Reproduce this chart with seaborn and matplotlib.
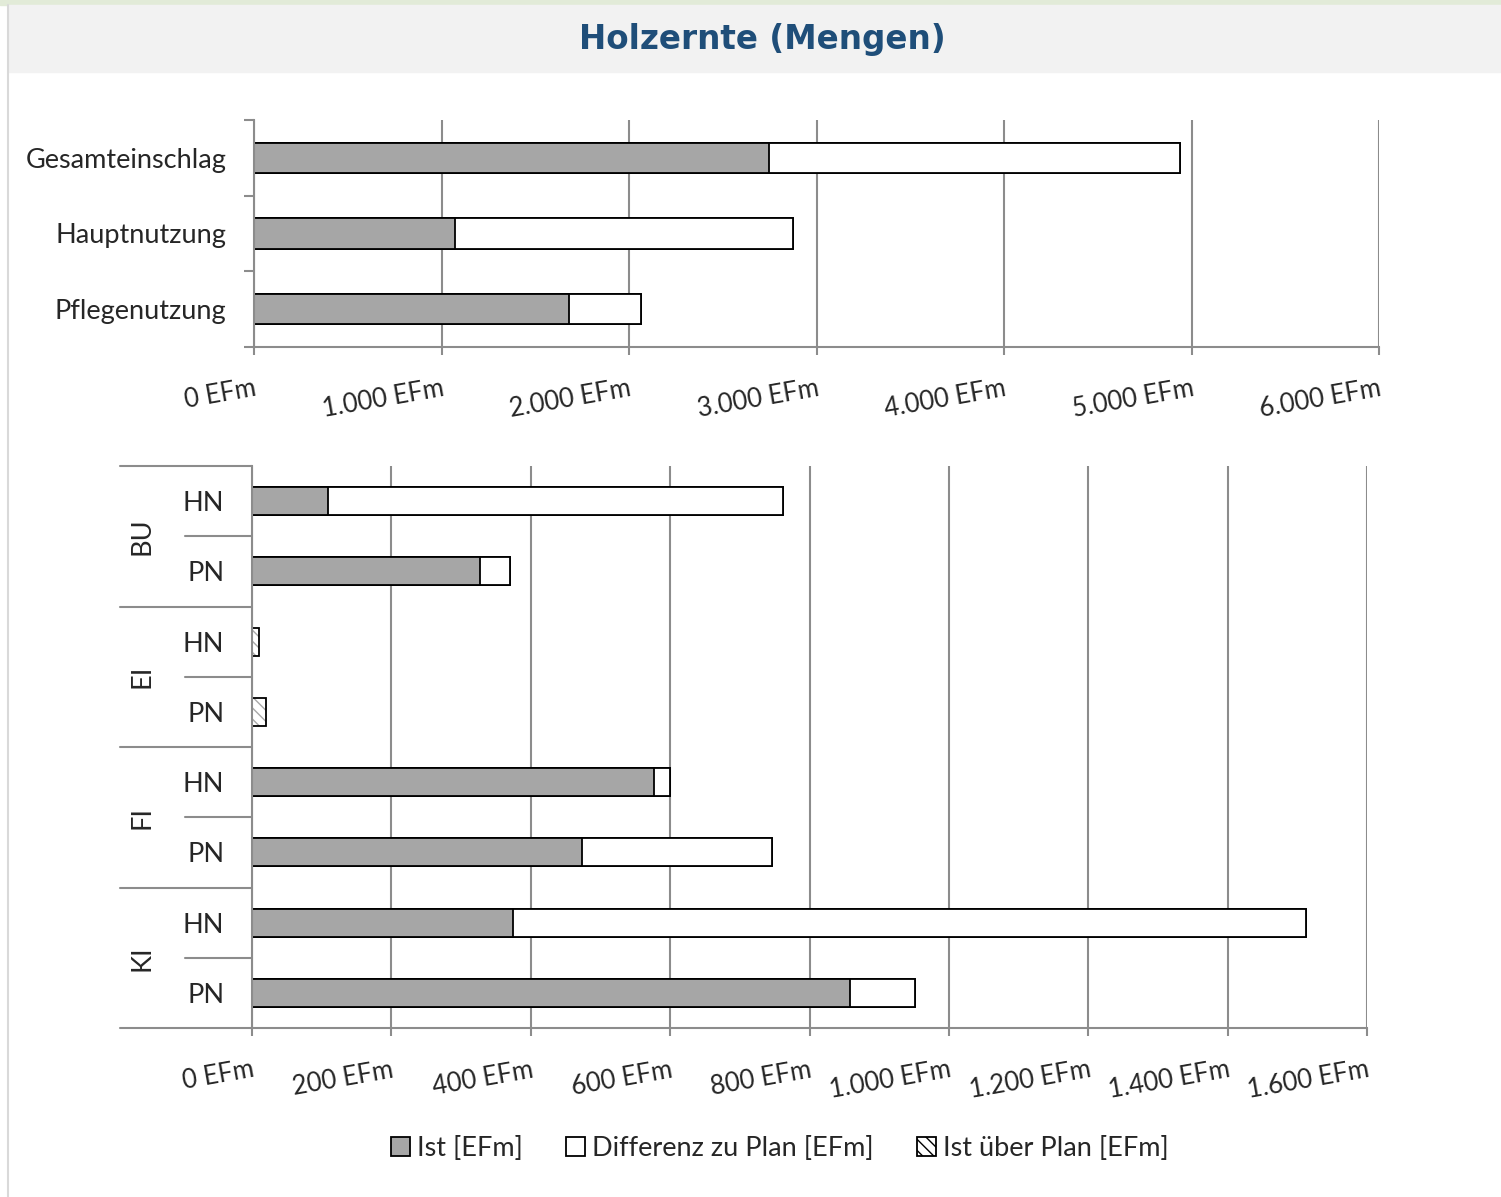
import matplotlib
matplotlib.use("Agg")
import matplotlib.pyplot as plt
import matplotlib.patches as mpatches
import matplotlib.transforms as mtransforms
from matplotlib.ticker import FuncFormatter, MultipleLocator
import numpy as np
import pandas as pd
import seaborn as sns

sns.set_style("white")
plt.rcParams['font.family'] = ['Lato', 'DejaVu Sans']
plt.rcParams['hatch.linewidth'] = 1.0

# Daten oben: Gesamt / Haupt- / Pflegenutzung
top_labels = ["Gesamteinschlag", "Hauptnutzung", "Pflegenutzung"]
top_ist = [2747, 1072, 1680]
top_diff = [2192, 1803, 384]
top_over = [0, 0, 0]

# Daten unten: Baumart x Nutzungsart
groups = ["BU", "EI", "FI", "KI"]
subs = ["HN", "PN"]
bot_ist = [109, 327, 0, 0, 577, 473, 374, 858]
bot_diff = [653, 43, 0, 0, 23, 273, 1138, 93]
bot_over = [0, 0, 10, 20, 0, 0, 0, 0]

legend_labels = ["Ist [EFm]", "Differenz zu Plan [EFm]", "Ist über Plan [EFm]"]

GRID = "#8c8c8c"
IST_COL = "#a6a6a6"
FS = 19.5
XFS = 18.5
HATCH = "\\\\\\"


def efm(x, pos):
    return "{:,} EFm".format(int(round(x))).replace(",", ".")


def draw_stacked(ax, cats, ist, diff, over):
    ist = np.array(ist)
    diff = np.array(diff)
    over = np.array(over)
    df = pd.DataFrame({"cat": cats, "ist": ist,
                       "plan": ist + diff, "total": ist + diff + over})
    # Ist über Plan (schraffiert) ganz hinten
    sns.barplot(data=df, y="cat", x="total", orient="h", color="white",
                width=0.4, edgecolor="#a8a8a8", linewidth=0, hatch=HATCH,
                saturation=1, ax=ax)
    sns.barplot(data=df, y="cat", x="total", orient="h", fill=False,
                color="black", width=0.4, linewidth=1.3, ax=ax)
    # Differenz zu Plan
    sns.barplot(data=df[df.plan > 0], y="cat", x="plan", orient="h",
                color="white", width=0.4, edgecolor="black", linewidth=1.3,
                saturation=1, ax=ax, order=cats)
    # Ist
    sns.barplot(data=df[df.ist > 0], y="cat", x="ist", orient="h",
                color=IST_COL, width=0.4, edgecolor="black", linewidth=1.3,
                saturation=1, ax=ax, order=cats)


def style_axis(ax, xmax, step, n):
    ax.set_xlim(0, xmax)
    ax.set_ylim(n - 0.5, -0.5)
    ax.xaxis.set_major_locator(MultipleLocator(step))
    ax.xaxis.set_major_formatter(FuncFormatter(efm))
    ax.grid(axis="x", color=GRID, linewidth=1.5)
    ax.grid(axis="y", visible=False)
    ax.set_axisbelow(True)
    for s in ["top", "right"]:
        ax.spines[s].set_visible(False)
    for s in ["left", "bottom"]:
        ax.spines[s].set_color(GRID)
        ax.spines[s].set_linewidth(1.5)
    ax.set_xlabel("")
    ax.set_ylabel("")
    ax.tick_params(axis="x", bottom=True, length=6, width=1.5, color=GRID,
                   labelsize=XFS, pad=15)
    for lab in ax.get_xticklabels():
        lab.set_rotation(10)
        lab.set_ha("right")
        lab.set_rotation_mode("anchor")


fig = plt.figure(figsize=(15.01, 11.97), dpi=100)

# Rahmen / Titelband
fig.patches.append(mpatches.Rectangle((0, 1 - 5 / 1197), 1, 5 / 1197,
                                      transform=fig.transFigure,
                                      color="#e2ebd8", zorder=0))
fig.patches.append(mpatches.Rectangle((8 / 1501, 1 - 72 / 1197), 1, 67 / 1197,
                                      transform=fig.transFigure,
                                      color="#f2f2f2", zorder=0))
fig.add_artist(plt.Line2D([7.5 / 1501, 7.5 / 1501], [0, 1 - 5 / 1197],
                          transform=fig.transFigure, color="#d9d9d9", lw=1.5))
fig.text(762 / 1501, 1 - 39 / 1197, "Holzernte (Mengen)", ha="center",
         va="center", fontsize=23.5, fontweight="bold", color="#1f4e79",
         family="DejaVu Sans")

# oberes Diagramm
ax1 = fig.add_axes([254 / 1501, 1 - 347 / 1197, 1125 / 1501, 227 / 1197])
draw_stacked(ax1, top_labels, top_ist, top_diff, top_over)
style_axis(ax1, 6000, 1000, 3)
ax1.set_yticks(range(3))
ax1.set_yticklabels(top_labels)
ax1.set_yticks([-0.5, 0.5, 1.5, 2.5], minor=True)
ax1.tick_params(axis="y", which="major", length=0, labelsize=FS, pad=20)
ax1.tick_params(axis="y", which="minor", left=True, length=7, width=1.5,
                color=GRID)
style_axis(ax1, 6000, 1000, 3)

# unteres Diagramm
bot_cats = [g + "-" + s for g in groups for s in subs]
ax2 = fig.add_axes([252 / 1501, 1 - 1028 / 1197, 1115 / 1501, 562 / 1197])
draw_stacked(ax2, bot_cats, bot_ist, bot_diff, bot_over)
style_axis(ax2, 1600, 200, len(bot_cats))
ax2.set_yticks(range(len(bot_cats)))
ax2.set_yticklabels([c.split("-")[1] for c in bot_cats])
ax2.tick_params(axis="y", which="major", length=0, labelsize=FS, pad=20)

trans = mtransforms.blended_transform_factory(ax2.transAxes, ax2.transData)
for i in range(len(groups) + 1):
    y = 2 * i - 0.5
    ax2.plot([-0.1184, 0], [y, y], transform=trans, color=GRID, lw=1.5,
             clip_on=False)
for i, g in enumerate(groups):
    y = 2 * i + 0.5
    ax2.plot([-0.060, 0], [y, y], transform=trans, color=GRID, lw=1.5,
             clip_on=False)
    ax2.text(-0.099, y, g, transform=trans, rotation=90, ha="center",
             va="center", fontsize=FS)

# Legende
handles = [
    mpatches.Patch(facecolor=IST_COL, edgecolor="black", linewidth=1.3),
    mpatches.Patch(facecolor="white", edgecolor="black", linewidth=1.3),
    mpatches.Patch(facecolor="white", edgecolor="black", linewidth=1.3,
                   hatch=HATCH),
]
fig.legend(handles, legend_labels, loc="center", ncol=3,
           bbox_to_anchor=(780 / 1501, 1 - 1148 / 1197), frameon=False,
           fontsize=FS, handlelength=0.7, handleheight=0.7,
           handletextpad=0.25, columnspacing=1.6)

fig.savefig("out.png", dpi=100)
